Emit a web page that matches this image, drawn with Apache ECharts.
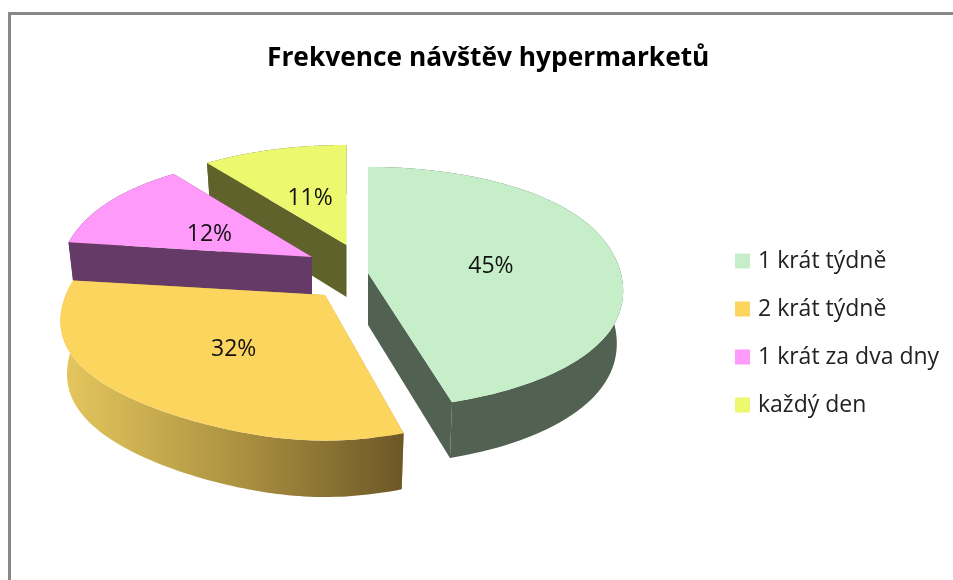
<!DOCTYPE html>
<html>
<head>
<meta charset="utf-8">
<style>html,body{margin:0;padding:0;background:#fff}#c{width:953px;height:580px}</style>
<script src="https://cdn.jsdelivr.net/npm/echarts@6/dist/echarts.min.js"></script>
</head>
<body>
<div id="c"></div>
<script>
const titleText = 'Frekvence návštěv hypermarketů';
const categories = ['1 krát týdně', '2 krát týdně', '1 krát za dva dny', 'každý den'];
const values = [45, 32, 12, 11];
const topColors = ['#c6efc9', '#fcd55e', '#ff99fa', '#ecf86d'];
const faceColors = ['#516152', '#b89a48', '#663a66', '#60622c'];
// exploded apex of every slice and its per-slice view tuning (layout of the 3D view)
const apexes = [[368, 273], [325, 295], [312, 257], [346.5, 245]];
const sizes = [0.98, 1.005, 0.97, 0.97];
const persp = [0.122, 0.183, 0.17, 0.19];
const squeeze = [0.07, 0.24, 0.12, 0.06];
const labelNudge = [[-1, 3], [-8, 4], [4, 5], [1, 5]];
const RX = 258, RY = 119, BULGE = 0.1, DEPTH = 52, BOTTOM_X = 0.975, BOTTOM_Y = 1.03;
const FONT = '"Open Sans", sans-serif';

const total = values.reduce((a, b) => a + b, 0);
const starts = [];
values.reduce((acc, v, i) => { starts[i] = acc; return acc + v; }, 0);

function project(i, turn, r) {
  const t = turn * 2 * Math.PI, u = Math.sin(t), v = Math.cos(t);
  const s = 1 / (1 + persp[i] * v * r);
  const b = 1 + BULGE * u * u * v * v;
  return [RX * sizes[i] * r * u * s * b * (1 - squeeze[i] * v * v * v * v), -RY * r * v * s * b];
}
function topPt(i, turn, r) {
  const p = project(i, turn, r);
  return [apexes[i][0] + p[0], apexes[i][1] + p[1]];
}
function lowPt(i, turn, r) {
  const p = project(i, turn, r);
  return [apexes[i][0] + p[0] * BOTTOM_X, apexes[i][1] + DEPTH + p[1] * BOTTOM_Y];
}
function arc(i, f, a, b) {
  const out = [], n = 90;
  for (let j = 0; j <= n; j++) out.push(f(i, a + (b - a) * j / n, 1));
  return out;
}
function poly(points, fill) {
  return { type: 'polygon', shape: { points }, style: { fill, stroke: null } };
}
function sliceItem(i) {
  return function () {
    const a = starts[i] / total, b = (starts[i] + values[i]) / total;
    const apexT = [apexes[i][0], apexes[i][1]];
    const apexB = [apexes[i][0], apexes[i][1] + DEPTH];
    let wallFill = faceColors[i];
    if (i === 1) {
      wallFill = { type: 'linear', x: 0, y: 0, x2: 1, y2: 0, global: false, colorStops: [
        { offset: 0, color: '#e6c75e' }, { offset: 0.5, color: '#ae9442' }, { offset: 1, color: '#6d5727' }] };
    }
    const children = [];
    children.push(poly([apexT, topPt(i, a, 1), lowPt(i, a, 1), apexB], faceColors[i]));
    children.push(poly([apexT, topPt(i, b, 1), lowPt(i, b, 1), apexB], faceColors[i]));
    children.push(poly(arc(i, topPt, a, b).concat(arc(i, lowPt, a, b).reverse()), wallFill));
    children.push(poly([apexT].concat(arc(i, topPt, a, b)), topColors[i]));
    const m = topPt(i, (a + b) / 2, 0.5);
    children.push({ type: 'text', z2: 10, style: {
      text: Math.round(values[i] / total * 100) + '%', x: m[0] + labelNudge[i][0], y: m[1] + labelNudge[i][1],
      align: 'center', verticalAlign: 'middle', fill: '#111', font: '23px ' + FONT } });
    return { type: 'group', children };
  };
}

const order = [3, 2, 1, 0];
const chart = echarts.init(document.getElementById('c'), null, { renderer: 'canvas' });
chart.setOption({
  animation: false,
  backgroundColor: '#ffffff',
  title: { text: titleText, left: 262, top: 41,
    textStyle: { fontFamily: FONT, fontWeight: 'bold', fontSize: 26.3, color: '#000' } },
  legend: { orient: 'vertical', left: 730, top: 242, itemWidth: 15, itemHeight: 15, itemGap: 20,
    icon: 'rect', data: categories, selectedMode: false,
    textStyle: { fontFamily: FONT, fontSize: 23, color: '#222', padding: [0, 0, 0, 3], lineHeight: 28 } },
  graphic: [{ type: 'polyline', silent: true,
    shape: { points: [[953, 13.5], [9.5, 13.5], [9.5, 580]] },
    style: { stroke: '#888888', lineWidth: 3, fill: null } }],
  series: order.map(i => ({
    type: 'custom', name: categories[i], coordinateSystem: 'none', z: 3 - i,
    itemStyle: { color: topColors[i] }, silent: true,
    data: [values[i]], renderItem: sliceItem(i)
  }))
});
</script>
</body>
</html>
